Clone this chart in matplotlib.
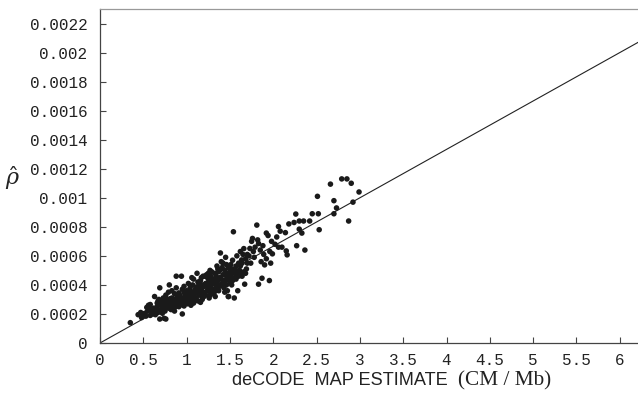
import numpy as np
import matplotlib
matplotlib.use("Agg")
import matplotlib.pyplot as plt

# recombination estimates, y in units of 1e-4
pts = [
    (0.35, 1.4), (0.44, 1.95), (0.48, 1.75), (0.50, 2.0), (0.47, 2.1),
    (0.52, 2.05), (0.53, 1.85), (0.55, 2.2), (0.56, 2.6), (0.57, 2.55), (0.58, 1.9),
    (0.59, 2.3), (0.54, 2.45), (0.60, 2.15), (0.58, 2.65),
    (0.61, 2.0), (0.62, 2.4), (0.63, 3.2), (0.64, 2.2), (0.65, 2.35), (0.66, 2.5),
    (0.67, 2.1), (0.68, 2.25), (0.69, 1.65), (0.66, 2.75), (0.68, 3.0), (0.70, 2.6),
    (0.62, 2.1), (0.64, 1.95), (0.67, 2.9), (0.69, 3.8),
    (0.71, 2.3), (0.72, 2.8), (0.73, 3.1), (0.74, 1.7), (0.75, 2.5), (0.76, 1.65),
    (0.75, 2.2), (0.77, 2.7), (0.78, 3.0), (0.79, 2.4), (0.74, 2.95), (0.76, 3.3),
    (0.78, 2.6), (0.80, 4.0), (0.72, 2.05), (0.77, 2.9), (0.79, 3.5), (0.73, 2.6),
    (0.71, 2.85), (0.80, 2.8),
    (0.81, 2.6), (0.82, 2.9), (0.83, 3.1), (0.84, 2.4), (0.85, 3.0), (0.86, 2.7),
    (0.87, 2.5), (0.88, 4.6), (0.89, 3.2), (0.83, 3.6), (0.85, 2.55), (0.86, 3.4),
    (0.87, 2.9), (0.88, 2.75), (0.90, 3.0), (0.82, 2.3), (0.84, 2.95), (0.89, 2.6),
    (0.81, 3.05), (0.86, 2.2), (0.88, 3.8), (0.90, 2.9),
    (0.91, 2.5), (0.92, 3.3), (0.93, 2.8), (0.94, 4.6), (0.95, 2.0), (0.96, 3.0),
    (0.97, 3.5), (0.98, 2.9), (0.99, 3.2), (1.00, 3.6), (0.92, 2.7), (0.94, 3.1),
    (0.95, 3.7), (0.96, 2.6), (0.97, 3.9), (0.98, 3.3), (0.93, 3.0), (0.91, 3.45),
    (0.99, 2.75), (1.00, 3.1), (0.95, 2.85), (0.97, 2.55),
    (1.01, 2.7), (1.02, 3.4), (1.03, 3.0), (1.04, 3.8), (1.05, 2.6), (1.06, 3.3),
    (1.07, 4.0), (1.08, 3.5), (1.09, 2.9), (1.10, 3.7), (1.02, 4.1), (1.04, 3.2),
    (1.05, 3.55), (1.06, 2.9), (1.07, 3.15), (1.08, 4.4), (1.09, 3.4), (1.03, 3.6),
    (1.01, 3.25), (1.10, 3.0), (1.06, 4.5), (1.04, 2.8), (1.08, 2.75),
    (1.11, 3.1), (1.12, 3.6), (1.13, 4.2), (1.14, 3.3), (1.15, 3.8), (1.16, 2.8),
    (1.17, 4.5), (1.18, 3.5), (1.19, 4.0), (1.20, 3.2), (1.12, 4.8), (1.13, 2.9),
    (1.14, 3.95), (1.15, 3.4), (1.16, 4.3), (1.17, 3.7), (1.18, 3.0), (1.19, 4.6),
    (1.11, 3.85), (1.20, 3.9), (1.15, 4.1), (1.17, 3.25), (1.13, 3.5),
    (1.21, 3.5), (1.22, 4.1), (1.23, 4.7), (1.24, 3.6), (1.25, 4.2), (1.26, 3.1),
    (1.27, 4.4), (1.28, 3.8), (1.29, 4.9), (1.30, 3.4), (1.22, 3.3), (1.23, 3.9),
    (1.24, 4.5), (1.25, 3.7), (1.26, 4.0), (1.27, 5.0), (1.28, 3.5), (1.29, 4.3),
    (1.21, 4.6), (1.30, 4.1), (1.25, 4.8), (1.27, 3.3), (1.24, 4.0), (1.28, 4.6),
    (1.31, 3.7), (1.32, 4.4), (1.33, 4.8), (1.34, 3.9), (1.35, 4.2), (1.36, 5.1),
    (1.37, 3.6), (1.38, 4.5), (1.39, 4.0), (1.40, 5.6), (1.32, 3.5), (1.33, 4.1),
    (1.34, 4.6), (1.35, 3.8), (1.36, 4.3), (1.37, 4.9), (1.38, 3.9), (1.39, 6.2),
    (1.31, 4.3), (1.40, 4.4), (1.35, 5.3), (1.38, 5.0), (1.33, 3.2),
    (1.41, 4.1), (1.42, 4.7), (1.43, 3.8), (1.44, 5.0), (1.45, 4.3), (1.46, 4.6),
    (1.47, 3.6), (1.48, 5.2), (1.49, 4.4), (1.50, 4.9), (1.42, 5.5), (1.43, 4.3),
    (1.44, 4.1), (1.45, 5.9), (1.46, 4.0), (1.47, 4.8), (1.48, 3.2), (1.49, 4.6),
    (1.41, 5.2), (1.50, 4.2), (1.485, 3.2), (1.46, 5.4), (1.44, 3.5),
    (1.51, 4.6), (1.52, 5.1), (1.53, 4.3), (1.54, 7.66), (1.55, 4.8), (1.56, 5.1),
    (1.57, 4.4), (1.58, 6.0), (1.59, 4.7), (1.60, 5.5), (1.52, 4.0), (1.53, 5.7),
    (1.55, 3.1), (1.56, 4.5), (1.57, 5.3), (1.58, 4.9), (1.60, 4.6), (1.54, 4.9),
    (1.59, 3.6), (1.51, 5.4),
    (1.61, 5.0), (1.62, 6.3), (1.63, 4.7), (1.635, 5.72), (1.64, 5.5), (1.65, 6.1),
    (1.66, 4.9), (1.67, 4.05), (1.68, 5.8), (1.69, 5.1), (1.70, 6.1), (1.62, 5.3),
    (1.64, 4.6), (1.66, 6.5), (1.68, 4.8), (1.70, 5.5),
    (1.72, 6.0), (1.73, 6.51), (1.75, 7.0), (1.77, 6.3), (1.79, 6.6), (1.74, 5.5),
    (1.76, 7.2), (1.78, 5.9),
    (1.81, 8.12), (1.83, 6.85), (1.83, 4.05), (1.85, 6.4), (1.87, 4.46), (1.89, 6.1),
    (1.90, 5.38), (1.82, 7.1), (1.86, 5.6), (1.88, 6.7),
    (1.92, 5.8), (1.92, 7.57), (1.94, 7.4), (1.955, 4.3), (1.97, 5.5), (1.99, 6.14),
    (1.96, 6.3), (1.98, 7.0),
    (2.02, 6.8), (2.06, 6.6), (2.06, 8.02), (2.10, 6.6), (2.04, 7.3), (2.08, 7.7),
    (2.14, 7.6), (2.15, 6.34), (2.16, 6.07), (2.18, 8.2), (2.24, 8.3), (2.26, 8.88),
    (2.27, 6.7), (2.30, 7.84), (2.33, 7.57), (2.30, 8.4), (2.35, 8.4), (2.365, 6.4),
    (2.42, 8.4), (2.45, 8.9), (2.52, 8.9), (2.51, 10.1), (2.53, 7.8),
    (2.66, 10.94), (2.70, 9.8), (2.70, 8.9), (2.73, 9.3), (2.79, 11.3), (2.85, 11.3),
    (2.90, 11.0), (2.99, 10.4), (2.92, 9.7), (2.87, 8.4),
]
decode_x = [p[0] for p in pts]
rho_hat = [p[1] * 1e-4 for p in pts]

slope = 1 / 3000.0
x_max = 6.21
y_max = 0.0023

x_ticks = [0, 0.5, 1, 1.5, 2, 2.5, 3, 3.5, 4, 4.5, 5, 5.5, 6]
x_labels = ["0", "0.5", "1", "1.5", "2", "2.5", "3", "3.5", "4", "4.5", "5", "5.5", "6"]
y_ticks = [0, 0.0002, 0.0004, 0.0006, 0.0008, 0.001, 0.0012, 0.0014, 0.0016,
           0.0018, 0.002, 0.0022]
y_labels = ["0", "0.0002", "0.0004", "0.0006", "0.0008", "0.001", "0.0012",
            "0.0014", "0.0016", "0.0018", "0.002", "0.0022"]

plt.rcParams['mathtext.fontset'] = 'dejavuserif'

fig = plt.figure(figsize=(6.38, 4.0), dpi=100)
ax = fig.add_axes([100 / 638, 57 / 400, 538 / 638, 334 / 400])

ax.plot([0, x_max], [0, slope * x_max], color='#222222', lw=0.8)
ax.scatter(decode_x, rho_hat, s=16, color='#1a1a1a', edgecolors='none', zorder=3)

ax.set_xlim(0, x_max)
ax.set_ylim(0, y_max)
ax.set_xticks(x_ticks)
ax.set_xticklabels(x_labels)
ax.set_yticks(y_ticks)
ax.set_yticklabels(y_labels)
ax.tick_params(direction='in', length=4, width=0.8, color='#444444',
               labelsize=11.5, labelcolor='#222222')
ax.tick_params(axis='x', pad=7)
ax.tick_params(axis='y', pad=9)
for lab in ax.get_xticklabels() + ax.get_yticklabels():
    lab.set_family('Liberation Mono')

ax.spines['right'].set_visible(False)
ax.spines['top'].set_color('#999999')
ax.spines['left'].set_color('#444444')
ax.spines['bottom'].set_color('#444444')
for s in ax.spines.values():
    s.set_linewidth(0.9)

# axis labels, two fonts on the x label like the original
fig.text(13 / 638, 1 - 178 / 400, r'$\hat{\rho}$', fontsize=16, ha='center',
         va='center', color='#222222')
fig.text(232 / 638, 15 / 400, 'deCODE  MAP ESTIMATE', family='Liberation Sans',
         fontsize=13.1, ha='left', va='baseline', color='#222222')
fig.text(551 / 638, 15 / 400, '(CM / Mb)', family='Liberation Serif',
         fontsize=15.3, ha='right', va='baseline', color='#222222')

fig.savefig('out.png', dpi=100)
